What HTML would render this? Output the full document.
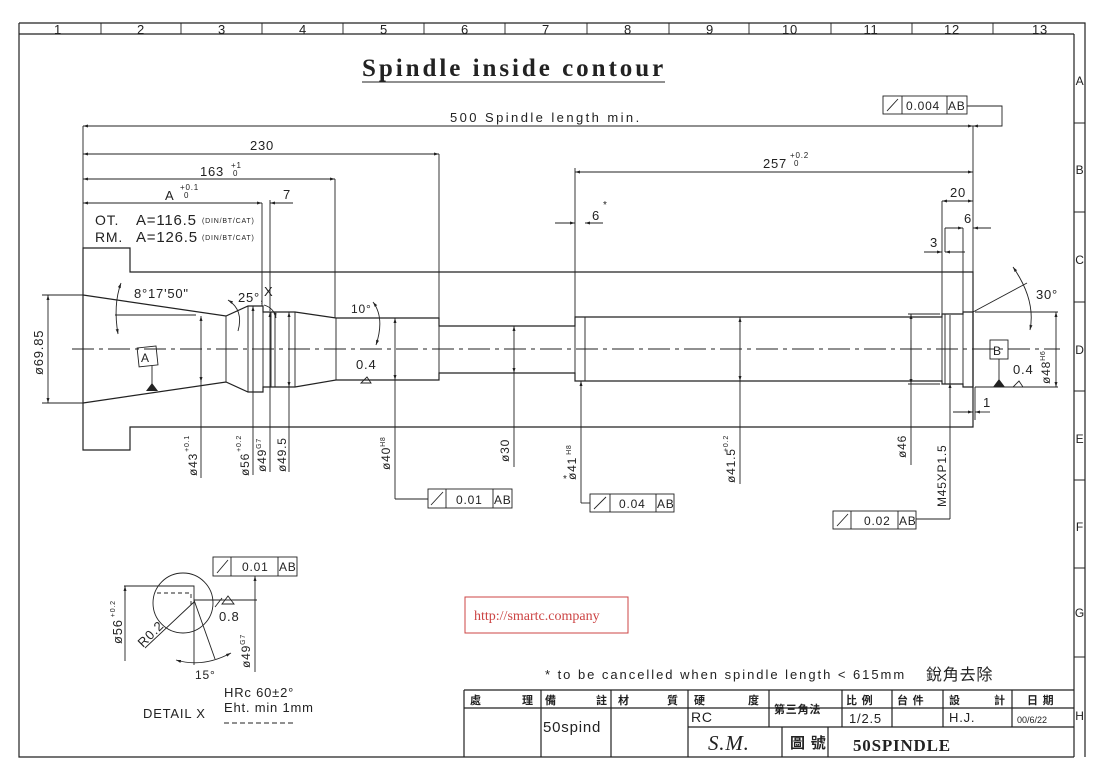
<!DOCTYPE html>
<html><head><meta charset="utf-8"><style>
html,body{margin:0;padding:0;background:#fff}
svg{display:block}
text{font-family:"Liberation Sans","Noto Sans CJK TC",sans-serif;fill:#222;letter-spacing:0.8px}
.s{stroke:#222;stroke-width:1.2;fill:none}
.t{stroke:#222;stroke-width:0.9;fill:none}
.c{stroke:#222;stroke-width:0.9;fill:none;stroke-dasharray:22 5 4 5}
</style></head><body>
<svg width="1110" height="781" viewBox="0 0 1110 781" xmlns="http://www.w3.org/2000/svg">
<defs>
<marker id="a" viewBox="0 0 10 10" refX="10" refY="5" markerWidth="9" markerHeight="5" orient="auto-start-reverse" markerUnits="userSpaceOnUse"><path d="M0,2 L10,5 L0,8z" fill="#222"/></marker>
</defs>
<!-- frame -->
<path class="s" d="M19,23 H1085 V757 M19,23 V757 H1074 M19,34 H1074 M1074,34 V757"/>
<g class="t">
<path d="M101,23V34M181,23V34M262,23V34M343,23V34M424,23V34M505,23V34M587,23V34M669,23V34M749,23V34M831,23V34M912,23V34M993,23V34"/>
<path d="M1074,123H1085M1074,212H1085M1074,302H1085M1074,391H1085M1074,480H1085M1074,568H1085M1074,657H1085"/>
</g>
<g font-size="13" text-anchor="middle">
<text x="58" y="34">1</text><text x="141" y="34">2</text><text x="222" y="34">3</text><text x="303" y="34">4</text><text x="384" y="34">5</text><text x="465" y="34">6</text><text x="546" y="34">7</text><text x="628" y="34">8</text><text x="710" y="34">9</text><text x="790" y="34">10</text><text x="871" y="34">11</text><text x="952" y="34">12</text><text x="1040" y="34">13</text>
<text x="1080" y="85" font-size="12">A</text><text x="1080" y="174" font-size="12">B</text><text x="1080" y="264" font-size="12">C</text><text x="1080" y="354" font-size="12">D</text><text x="1080" y="443" font-size="12">E</text><text x="1080" y="531" font-size="12">F</text><text x="1080" y="617" font-size="12">G</text><text x="1080" y="720" font-size="12">H</text>
</g>
<!-- title -->
<text x="362" y="76" font-size="25" font-weight="bold" textLength="302" lengthAdjust="spacing" style="font-family:'Liberation Serif',serif">Spindle  inside  contour</text>
<path class="t" d="M362,82H665"/>
<!-- body -->
<path class="s" d="M83,248H130V272H973V427H130V450H83Z"/>
<path class="s" d="M83,295L226,316L248,306H263V312H295L336,318H439V326H575V317H942V314H963V312H973V387H963V384H942V381H575V373H439V380H336L295,387H263V392H248L226,382L83,403"/>
<g class="t">
<path d="M226,316V382M248,306V392M253,306V392M263,306V392M271,312V387M275,312V387M295,312V387M336,318V380M439,318V380M575,317V381M585,317V381M942,314V384M945,314V384M950,315V383M963,312V387"/>
</g>
<path class="c" d="M72,349H1060"/>
<!-- dims top -->
<g class="t">
<path d="M83,126V248M973,126V312M439,154V318M335,179V318M262,203V306M270,200V311M575,168V317M942,201V314M963,228V312M945,228V252"/>
<path d="M83,126H973" marker-start="url(#a)"/>
<path d="M952,126H973" marker-end="url(#a)"/><path d="M995,126H973" marker-end="url(#a)"/>
<path d="M995,126H1002V106H967"/>
<path d="M83,154H439" marker-start="url(#a)" marker-end="url(#a)"/>
<path d="M83,179H335" marker-start="url(#a)" marker-end="url(#a)"/>
<path d="M83,203H262" marker-start="url(#a)" marker-end="url(#a)"/>
<path d="M293,203H270" marker-end="url(#a)"/>
<path d="M575,172H973" marker-start="url(#a)" marker-end="url(#a)"/>
<path d="M555,223H575" marker-end="url(#a)"/><path d="M603,223H585" marker-end="url(#a)"/>
<path d="M942,201H973" marker-start="url(#a)" marker-end="url(#a)"/>
<path d="M945,228H963" marker-end="url(#a)"/><path d="M991,228H973" marker-end="url(#a)"/>
<path d="M924,252H942" marker-end="url(#a)"/><path d="M965,252H945" marker-end="url(#a)"/>
<path d="M953,412H973" marker-end="url(#a)"/><path d="M990,412H975" marker-end="url(#a)"/>
<path d="M973,387V420M975,387V420"/>
<path d="M973,312L1027,283"/>
<path d="M1013,267Q1036,300 1030,330" marker-start="url(#a)" marker-end="url(#a)"/>
<path d="M975,312H1058M975,387H1058"/>
<path d="M1056,312V387" marker-start="url(#a)" marker-end="url(#a)"/>
<path d="M42,295H83M42,403H83"/>
<path d="M48,295V403" marker-start="url(#a)" marker-end="url(#a)"/>
<path d="M115,315H196"/>
<path d="M121,283Q113,305 118,334" marker-start="url(#a)" marker-end="url(#a)"/>
<path d="M228,300Q244,310 238,331" marker-start="url(#a)"/>
<path d="M264,305Q274,308 276,318" marker-end="url(#a)"/>
<path d="M373,302Q385,318 376,345" marker-start="url(#a)" marker-end="url(#a)"/>
<path d="M908,314H940M908,384H940"/>
<path d="M911,314V465" marker-start="url(#a)"/><path d="M911,384V340" marker-start="url(#a)"/>
<path d="M201,478V316" marker-end="url(#a)"/><path d="M201,382V360" marker-start="url(#a)"/>
<path d="M253,475V306" marker-end="url(#a)"/>
<path d="M270,472V312" marker-end="url(#a)"/>
<path d="M289,472V312" marker-end="url(#a)"/><path d="M289,387V360" marker-start="url(#a)"/>
<path d="M395,499V318" marker-end="url(#a)"/><path d="M395,380V360" marker-start="url(#a)"/>
<path d="M395,499H428"/>
<path d="M514,467V326" marker-end="url(#a)"/><path d="M514,373V360" marker-start="url(#a)"/>
<path d="M581,503V381" marker-end="url(#a)"/><path d="M581,503H590"/>
<path d="M740,484V317" marker-end="url(#a)"/><path d="M740,381V360" marker-start="url(#a)"/>
<path d="M950,519V383" marker-end="url(#a)"/><path d="M950,519H916"/>
<path d="M152,366V390"/><path d="M999,359V387"/>
<path d="M367,377L371,383L361,383Z"/><path d="M1019,381L1023,387L1013,387Z"/>
</g>
<path d="M146,391L152,383L158,391Z" fill="#222"/>
<path d="M993,387L999,379L1005,387Z" fill="#222"/>
<rect x="138" y="347" width="19" height="19" class="t" transform="rotate(-6 147 356)"/>
<text x="141" y="362" font-size="12">A</text>
<rect x="990" y="340" width="18" height="19" class="t"/><text x="993" y="355" font-size="12">B</text>
<!-- fcf boxes -->
<g class="t">
<rect x="883" y="96" width="84" height="18"/><path d="M902,96V114M947,96V114M887,111L898,99"/>
<rect x="428" y="489" width="84" height="19"/><path d="M446,489V508M493,489V508M431,505L443,492"/>
<rect x="590" y="494" width="84" height="18"/><path d="M610,494V512M656,494V512M594,509L606,497"/>
<rect x="833" y="511" width="83" height="18"/><path d="M851,511V529M898,511V529M837,526L848,514"/>
<rect x="213" y="557" width="84" height="19"/><path d="M231,557V576M278,557V576M217,573L228,560"/>
</g>
<g font-size="12">
<text x="906" y="110">0.004</text><text x="948" y="110">AB</text>
<text x="456" y="504">0.01</text><text x="494" y="504">AB</text>
<text x="619" y="508">0.04</text><text x="657" y="508">AB</text>
<text x="864" y="525">0.02</text><text x="899" y="525">AB</text>
<text x="242" y="571">0.01</text><text x="279" y="571">AB</text>
</g>
<!-- dim texts -->
<g font-size="13">
<text x="450" y="122" textLength="190" lengthAdjust="spacing">500  Spindle  length  min.</text>
<text x="250" y="150">230</text>
<text x="200" y="176">163</text><text x="231" y="168" font-size="8">+1</text><text x="233" y="176" font-size="8">0</text>
<text x="165" y="200">A</text><text x="180" y="190" font-size="8">+0.1</text><text x="184" y="198" font-size="8">0</text>
<text x="283" y="199">7</text>
<text x="763" y="168">257</text><text x="790" y="158" font-size="8">+0.2</text><text x="794" y="166" font-size="8">0</text>
<text x="592" y="220">6</text><text x="603" y="208" font-size="10">*</text>
<text x="950" y="197">20</text><text x="964" y="223">6</text><text x="930" y="247">3</text><text x="983" y="407">1</text>
<text x="1036" y="299">30°</text>
<text x="95" y="225" font-size="14">OT.</text><text x="136" y="225" font-size="15">A=116.5</text><text x="202" y="223" font-size="7">(DIN/BT/CAT)</text>
<text x="95" y="242" font-size="14">RM.</text><text x="136" y="242" font-size="15">A=126.5</text><text x="202" y="240" font-size="7">(DIN/BT/CAT)</text>
<text x="134" y="298">8°17'50"</text>
<text x="238" y="302">25°,</text><text x="264" y="296">X</text>
<text x="351" y="313" font-size="12">10°</text>
<text x="356" y="369">0.4</text><text x="1013" y="374">0.4</text>
</g>
<g font-size="12">
<text transform="translate(43,375) rotate(-90)" font-size="13">ø69.85</text>
<text transform="translate(1050,384) rotate(-90)">ø48<tspan font-size="7" dy="-5">H6</tspan></text>
<text transform="translate(197,476) rotate(-90)">ø43<tspan font-size="7" dx="1" dy="-8">+0.1</tspan></text>
<text transform="translate(249,476) rotate(-90)">ø56<tspan font-size="7" dx="1" dy="-8">+0.2</tspan></text>
<text transform="translate(266,472) rotate(-90)">ø49<tspan font-size="7" dy="-5">G7</tspan></text>
<text transform="translate(286,472) rotate(-90)">ø49.5</text>
<text transform="translate(390,470) rotate(-90)">ø40<tspan font-size="7" dy="-5">H8</tspan></text>
<text transform="translate(509,462) rotate(-90)">ø30</text>
<text transform="translate(576,480) rotate(-90)">ø41<tspan font-size="7" dx="2" dy="-5">H8</tspan></text>
<text x="563" y="482" font-size="10">*</text>
<text transform="translate(735,483) rotate(-90)">ø41.5</text>
<text transform="translate(728,452) rotate(-90)" font-size="7">+0.2</text>
<text transform="translate(906,458) rotate(-90)">ø46</text>
<text transform="translate(946,507) rotate(-90)">M45XP1.5</text>
</g>
<!-- detail X -->
<circle cx="183" cy="603" r="30" class="t"/>
<g class="t">
<path d="M124,586H194V665M194,600H257M125,586V661" />
<path d="M125,600V586" marker-end="url(#a)"/>
<path d="M157,593H191V605" stroke-dasharray="4 3"/>
<path d="M145,648L194,602M194,600L215,659"/>
<path d="M255,600V576" marker-end="url(#a)"/><path d="M255,672V600"/>
<path d="M176,660Q203,668 231,653" marker-start="url(#a)" marker-end="url(#a)"/>
<path d="M222,604L228,596L234,604Z M215,607L222,598"/>
<path d="M224,723H296" stroke-dasharray="5 3"/>
</g>
<g font-size="13">
<text x="195" y="679" font-size="12">15°</text>
<text transform="translate(143,648) rotate(-45)">R0.2</text>
<text x="219" y="621">0.8</text>
<text transform="translate(122,644) rotate(-90)">ø56<tspan font-size="7" dx="2" dy="-7">+0.2</tspan></text>
<text transform="translate(250,668) rotate(-90)" font-size="12">ø49<tspan font-size="7" dy="-5">G7</tspan></text>
<text x="224" y="697">HRc  60±2°</text>
<text x="224" y="712">Eht.  min  1mm</text>
<text x="143" y="718">DETAIL  X</text>
</g>
<!-- watermark -->
<rect x="465" y="597" width="163" height="36" fill="none" stroke="#c44" stroke-width="1"/>
<text x="474" y="620" font-size="14" style="font-family:'Liberation Serif',serif;fill:#c44;letter-spacing:0">http://smartc.company</text>
<!-- note -->
<text x="545" y="679" font-size="13" textLength="360" lengthAdjust="spacing">* to be cancelled when spindle length &lt; 615mm</text>
<text x="926" y="680" font-size="16">銳角去除</text>
<!-- title block -->
<g class="s">
<path d="M464,690H1074M464,708H1074M688,727H1074M464,690V757"/>
<path d="M541,690V757M611,690V757M688,690V757M769,690V727M782,727V757M828,727V757M842,690V727M892,690V727M943,690V727M1012,690V727"/>
</g>
<g font-size="11" font-weight="bold">
<text x="470" y="704">處</text><text x="522" y="704">理</text>
<text x="545" y="704">備</text><text x="596" y="704">註</text>
<text x="618" y="704">材</text><text x="667" y="704">質</text>
<text x="694" y="704">硬</text><text x="748" y="704">度</text>
<text x="774" y="713">第三角法</text>
<text x="846" y="704">比 例</text><text x="897" y="704">台 件</text>
<text x="949" y="704">設</text><text x="994" y="704">計</text>
<text x="1027" y="704">日 期</text>
<text x="790" y="748" font-size="15">圖 號</text>
</g>
<g font-size="13">
<text x="543" y="732" font-size="15">50spind</text>
<text x="691" y="722" font-size="14">RC</text>
<text x="849" y="723">1/2.5</text>
<text x="949" y="722">H.J.</text>
<text x="1017" y="723" font-size="9" style="letter-spacing:0">00/6/22</text>
<text x="708" y="750" font-size="21" font-style="italic" style="font-family:'Liberation Serif',serif">S.M.</text>
<text x="853" y="751" font-size="17" font-weight="bold" style="font-family:'Liberation Serif',serif">50SPINDLE</text>
</g>
</svg>
</body></html>
